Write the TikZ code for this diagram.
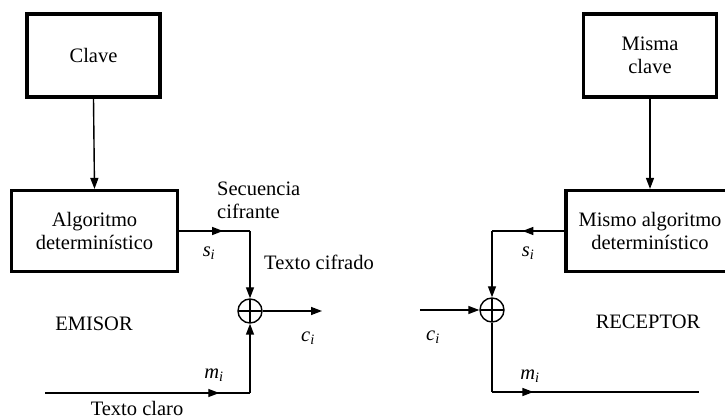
\documentclass[tikz,border=0pt]{standalone}
\usepackage{fontspec}
\setmainfont{Liberation Serif}
\usepackage{tikz}
\usetikzlibrary{arrows.meta,decorations.markings}
\newcommand{\sig}[2]{\textit{#1}\textsubscript{\textit{#2}}}

\begin{document}
\begin{tikzpicture}[x=1pt, y=-1pt, font=\fontsize{20.5}{23}\selectfont,
    keybox/.style={draw, line width=3.2pt, minimum width=133pt, minimum height=83pt, inner sep=0pt, align=center},
    algbox/.style={draw, line width=3.2pt, minimum width=166pt, minimum height=81pt, inner sep=0pt, align=center},
    xorsum/.style={draw, circle, line width=1.4pt, minimum size=24pt, inner sep=0pt,
      path picture={\draw[line width=1.4pt] (path picture bounding box.north) -- (path picture bounding box.south)
        (path picture bounding box.west) -- (path picture bounding box.east);}},
    wire/.style={line width=1.4pt},
    tip/.style={-{Triangle[length=11pt,width=8pt]}},
    midarrow/.style={postaction={decorate, decoration={markings,
      mark=at position #1 with {\arrow{Triangle[length=11pt,width=8pt]}}}}},
    lbl/.style={inner sep=0pt}]
  \useasboundingbox (0,0) rectangle (725,419);
  \clip (0,0) rectangle (725,419);

  % Emisor
  \node[keybox] (clave) at (93.5,55.5) {Clave};
  \node[algbox] (alg) at (94.5,231) {Algoritmo\\determinístico};
  \node[xorsum] (xe) at (250,311) {};
  \coordinate (se) at (250,231);
  \coordinate (me) at (45,393);
  \coordinate (mc) at (250,393);
  \coordinate (ce) at (322,311);
  \draw[wire, tip] (clave.south) -- (alg.north);
  \draw[wire, midarrow=0.62] (alg.east) -- (se);
  \draw[wire, tip] (se) -- (xe.north);
  \draw[wire, midarrow=0.85] (me) -- (mc);
  \draw[wire, tip] (mc) -- (xe.south);
  \draw[wire, tip] (xe.east) -- (ce);
  \node[lbl, anchor=west, align=left] (sec) at (217,200) {Secuencia\\cifrante};
  \node[lbl] (se lbl) at (209,253) {\sig{s}{i}};
  \node[lbl, anchor=west] (tc) at (264,262) {Texto cifrado};
  \node[lbl] (ce lbl) at (308,338) {\sig{c}{i}};
  \node[lbl] (me lbl) at (214,375) {\sig{m}{i}};
  \node[lbl] (tcl) at (137,408) {Texto claro};
  \node[lbl] (emisor) at (94,324) {EMISOR};

  % Receptor
  \node[keybox] (mclave) at (650,55.5) {Misma\\clave};
  \node[algbox, minimum width=168pt] (malg) at (650,231) {Mismo algoritmo\\determinístico};
  \node[xorsum] (xr) at (492,310) {};
  \coordinate (sr) at (492,231);
  \coordinate (ci) at (420,310);
  \coordinate (mr) at (492,392);
  \coordinate (mo) at (699,392);
  \draw[wire, tip] (mclave.south) -- (malg.north);
  \draw[wire, midarrow=0.58] (malg.west) -- (sr);
  \draw[wire, tip] (sr) -- (xr.north);
  \draw[wire, tip] (ci) -- (xr.west);
  \draw[wire] (xr.south) -- (mr);
  \draw[wire, midarrow=0.2] (mr) -- (mo);
  \node[lbl] (sr lbl) at (528,253) {\sig{s}{i}};
  \node[lbl] (ci lbl) at (433,337) {\sig{c}{i}};
  \node[lbl] (mr lbl) at (530,376) {\sig{m}{i}};
  \node[lbl] (receptor) at (648,322) {RECEPTOR};
\end{tikzpicture}
\end{document}
